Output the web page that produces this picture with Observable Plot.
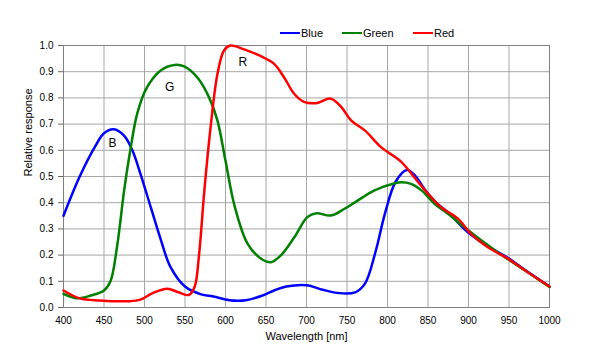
<!DOCTYPE html>
<html><head><meta charset="utf-8">
<script src="https://cdn.jsdelivr.net/npm/d3@7"></script>
<script src="https://cdn.jsdelivr.net/npm/@observablehq/plot@0.6"></script>
<style>
body{margin:0;background:#fff;font-family:"Liberation Sans",Arial,sans-serif;}
#wrap{position:relative;width:600px;height:356px;}
#legend{position:absolute;top:27px;left:0;font-size:11px;color:#000;}
#legend span{position:absolute;display:inline-flex;align-items:center;white-space:nowrap;}
#legend i{display:inline-block;width:20px;height:2.5px;margin-right:1px;}
</style></head>
<body><div id="wrap"><div id="legend"></div></div>
<script>
const seriesNames = ["Blue", "Green", "Red"];
const seriesColors = ["#0000ff", "#008000", "#ff0000"];

const blueWl = [400,420,440,450,462,475,485,495,508,520,532,550,570,585,605,625,645,660,675,700,720,740,760,772,785,797,810,824,835,846,860,875,900,925,950,970,1000];
const blueVal = [0.35,0.50,0.62,0.665,0.68,0.655,0.60,0.51,0.38,0.26,0.155,0.08,0.05,0.042,0.028,0.028,0.045,0.065,0.08,0.085,0.068,0.055,0.058,0.09,0.21,0.36,0.48,0.525,0.50,0.45,0.40,0.362,0.285,0.232,0.187,0.143,0.08];

const greenWl = [400,417,434,450,458,466,475,483,491,503,520,537,549,566,580,590,600,611,627,644,656,668,685,701,712,730,747,763,784,809,817,829,842,858,875,895,916,945,970,1000];
const greenVal = [0.052,0.035,0.046,0.065,0.10,0.23,0.45,0.61,0.74,0.84,0.905,0.926,0.92,0.875,0.80,0.714,0.56,0.39,0.245,0.186,0.173,0.198,0.268,0.345,0.36,0.351,0.377,0.408,0.447,0.474,0.478,0.472,0.447,0.396,0.357,0.306,0.256,0.192,0.141,0.078];

const redWl = [400,420,445,480,495,510,528,542,555,562,567,574,582,590,598,606,623,643,660,672,685,697,712,730,743,755,772,792,817,833,850,866,887,903,924,949,970,1000];
const redVal = [0.065,0.035,0.027,0.024,0.03,0.055,0.072,0.058,0.048,0.08,0.19,0.45,0.70,0.89,0.98,1.0,0.985,0.96,0.93,0.88,0.815,0.785,0.78,0.797,0.765,0.714,0.676,0.612,0.556,0.497,0.434,0.383,0.339,0.281,0.23,0.186,0.141,0.08];

const labelText = ["B", "G", "R"];
const labelWl = [460.6, 531, 621.4];
const labelVal = [0.626, 0.84, 0.935];

const xTicks = d3.range(400, 1001, 50);
const yTicks = d3.range(0, 11).map(d => d / 10);

const series = [
  blueWl.map((w, i) => ({w, v: blueVal[i], s: "Blue"})),
  greenWl.map((w, i) => ({w, v: greenVal[i], s: "Green"})),
  redWl.map((w, i) => ({w, v: redVal[i], s: "Red"}))
];
const labels = labelText.map((t, i) => ({t, w: labelWl[i], v: labelVal[i]}));

const chart = Plot.plot({
  width: 600, height: 356,
  marginLeft: 63, marginRight: 51, marginTop: 45, marginBottom: 49,
  style: {fontFamily: '"Liberation Sans", Arial, sans-serif', fontSize: "10px", color: "#000", background: "#fff"},
  x: {domain: [400, 1000]},
  y: {domain: [0, 1]},
  marks: [
    Plot.gridX(xTicks, {stroke: "#a6a6a6", strokeOpacity: 1, strokeWidth: 1}),
    Plot.gridY(yTicks, {stroke: "#a6a6a6", strokeOpacity: 1, strokeWidth: 1}),
    Plot.frame({stroke: "#808080"}),
    Plot.axisY(yTicks, {tickSize: 5, tickPadding: 5, tickFormat: d3.format(".1f"), stroke: "#666", label: null}),
    Plot.axisX(xTicks, {tickSize: 0, tickPadding: 9, tickFormat: d => String(d), label: null}),
    Plot.text(["Relative response"], {frameAnchor: "left", dx: -35, rotate: -90, fontSize: 11}),
    Plot.text(["Wavelength [nm]"], {frameAnchor: "bottom", dy: 32, fontSize: 11}),
    ...series.map((data, i) => Plot.line(data, {x: "w", y: "v", stroke: seriesColors[i], strokeWidth: 2.5, curve: "catmull-rom"})),
    Plot.text(labels, {x: "w", y: "v", text: "t", fontSize: 12})
  ]
});
const wrap = document.getElementById("wrap");
wrap.insertBefore(chart, wrap.firstChild);
const legend = document.getElementById("legend");
const legendLeft = [280, 342, 413];
seriesNames.forEach((n, i) => {
  const s = document.createElement("span");
  s.style.left = legendLeft[i] + "px";
  s.innerHTML = `<i style="background:${seriesColors[i]}"></i>${n}`;
  legend.appendChild(s);
});
</script></body></html>
